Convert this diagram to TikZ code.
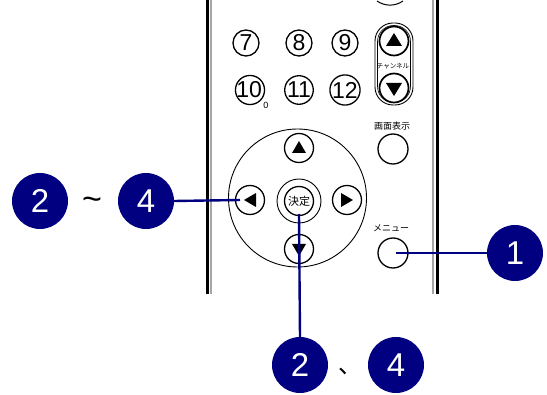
\documentclass[tikz,border=0pt]{standalone}
\usepackage{fontspec}
\setmainfont{Liberation Sans}
\newfontfamily\jpfont{Noto Sans CJK JP}
\definecolor{navy}{RGB}{0,0,128}
\begin{document}
\begin{tikzpicture}[x=1pt,y=-1pt,
  btn/.style={circle,draw=black,line width=1.3pt,minimum size=26pt,inner sep=0pt,font=\fontsize{23}{23}\selectfont},
  sbtn/.style={circle,draw=black,line width=1.3pt,minimum size=30pt,inner sep=0pt},
  callout/.style={circle,fill=navy,minimum size=56pt,inner sep=0pt,text=white,font=\fontsize{33}{33}\selectfont},
  lead/.style={draw=navy,line width=2.4pt},
  tri/.style={fill=black},
  jp/.style={font=\jpfont\fontsize{9}{9}\selectfont,inner sep=0pt}]
\useasboundingbox (0,0) rectangle (547,395);
% remote body edges
\fill[black] (206,0) rectangle (209,294);
\fill[gray!70] (210,0) rectangle (212,294);
\fill[gray!70] (432,0) rectangle (434,294);
\fill[black] (436,0) rectangle (439,294);
% partial top button
\draw[line width=1pt] (377,1) .. controls (385,6.5) and (395,6.5) .. (403,1);
% number buttons
\node[btn] (b7) at (246,43) {7};
\node[btn] (b8) at (299,43) {8};
\node[btn] (b9) at (345,43) {9};
\node[btn] (b10) at (250,90) {\kern-1.5pt10};
\node[font=\fontsize{9}{9}\selectfont,inner sep=0pt] (z0) at (266,105) {0};
\node[btn] (b11) at (299,90) {11};
\node[btn] (b12) at (345,90) {12};
% channel pill
\draw[line width=0.9pt,rounded corners=18pt] (375,23) rectangle (413,105);
\draw[line width=0.6pt,rounded corners=16pt] (377.5,25.5) rectangle (410.5,102.5);
\node[circle,draw,line width=1.7pt,minimum size=29pt,inner sep=0pt] (chu) at (394,41) {};
\node[circle,draw,line width=1.7pt,minimum size=29pt,inner sep=0pt] (chd) at (394,88) {};
\fill[tri] (386,46) -- (402,46) -- (394,33) -- cycle;
\fill[tri] (386,83) -- (402,83) -- (394,96) -- cycle;
\node[jp,font=\jpfont\fontsize{6.5}{6.5}\selectfont] (chl) at (393,66) {チャンネル};
% display button
\node[jp] (disp) at (392,126) {画面表示};
\node[sbtn] (dispb) at (393,149) {};
% d-pad
\draw[line width=0.9pt] (297.5,198) circle[radius=69];
\node[sbtn,minimum size=29pt] (up) at (299,148) {};
\node[sbtn,minimum size=29pt] (left) at (250,200) {};
\node[sbtn,minimum size=29pt] (right) at (347,200) {};
\node[sbtn,minimum size=29pt] (down) at (299,249) {};
\fill[tri] (292,153) -- (306,153) -- (299,141) -- cycle;
\fill[tri] (256,193) -- (256,207) -- (244,200) -- cycle;
\fill[tri] (341,193) -- (341,207) -- (353,200) -- cycle;
\fill[tri] (292,244) -- (306,244) -- (299,256) -- cycle;
\draw[line width=0.9pt] (299,201) circle[radius=22];
\node[circle,draw,line width=1.3pt,minimum size=29pt,inner sep=0pt,font=\jpfont\fontsize{11}{11}\selectfont] (ok) at (299,201) {決定};
% menu
\node[jp] (menu) at (391,228) {メニュー};
\node[sbtn] (menub) at (393,253) {};
% callouts
\node[callout] (c1) at (515,253) {1};
\node[callout] (c2a) at (40,201) {2};
\node[font=\fontsize{34}{34}\selectfont,inner sep=0pt] (tilde) at (92,204) {\textasciitilde};
\node[callout] (c4a) at (146,201) {4};
\node[callout] (c2b) at (300,365) {2};
\node[jp,font=\jpfont\fontsize{24}{24}\selectfont] (comma) at (350,371) {、};
\node[callout] (c4b) at (396,365) {4};
% leaders
\draw[lead] (menub.center) ++(3,0) -- (c1.west);
\draw[lead] (c4a.east) -- (240,200);
\draw[lead] (299,214) -- (c2b.north);
\end{tikzpicture}
\end{document}
